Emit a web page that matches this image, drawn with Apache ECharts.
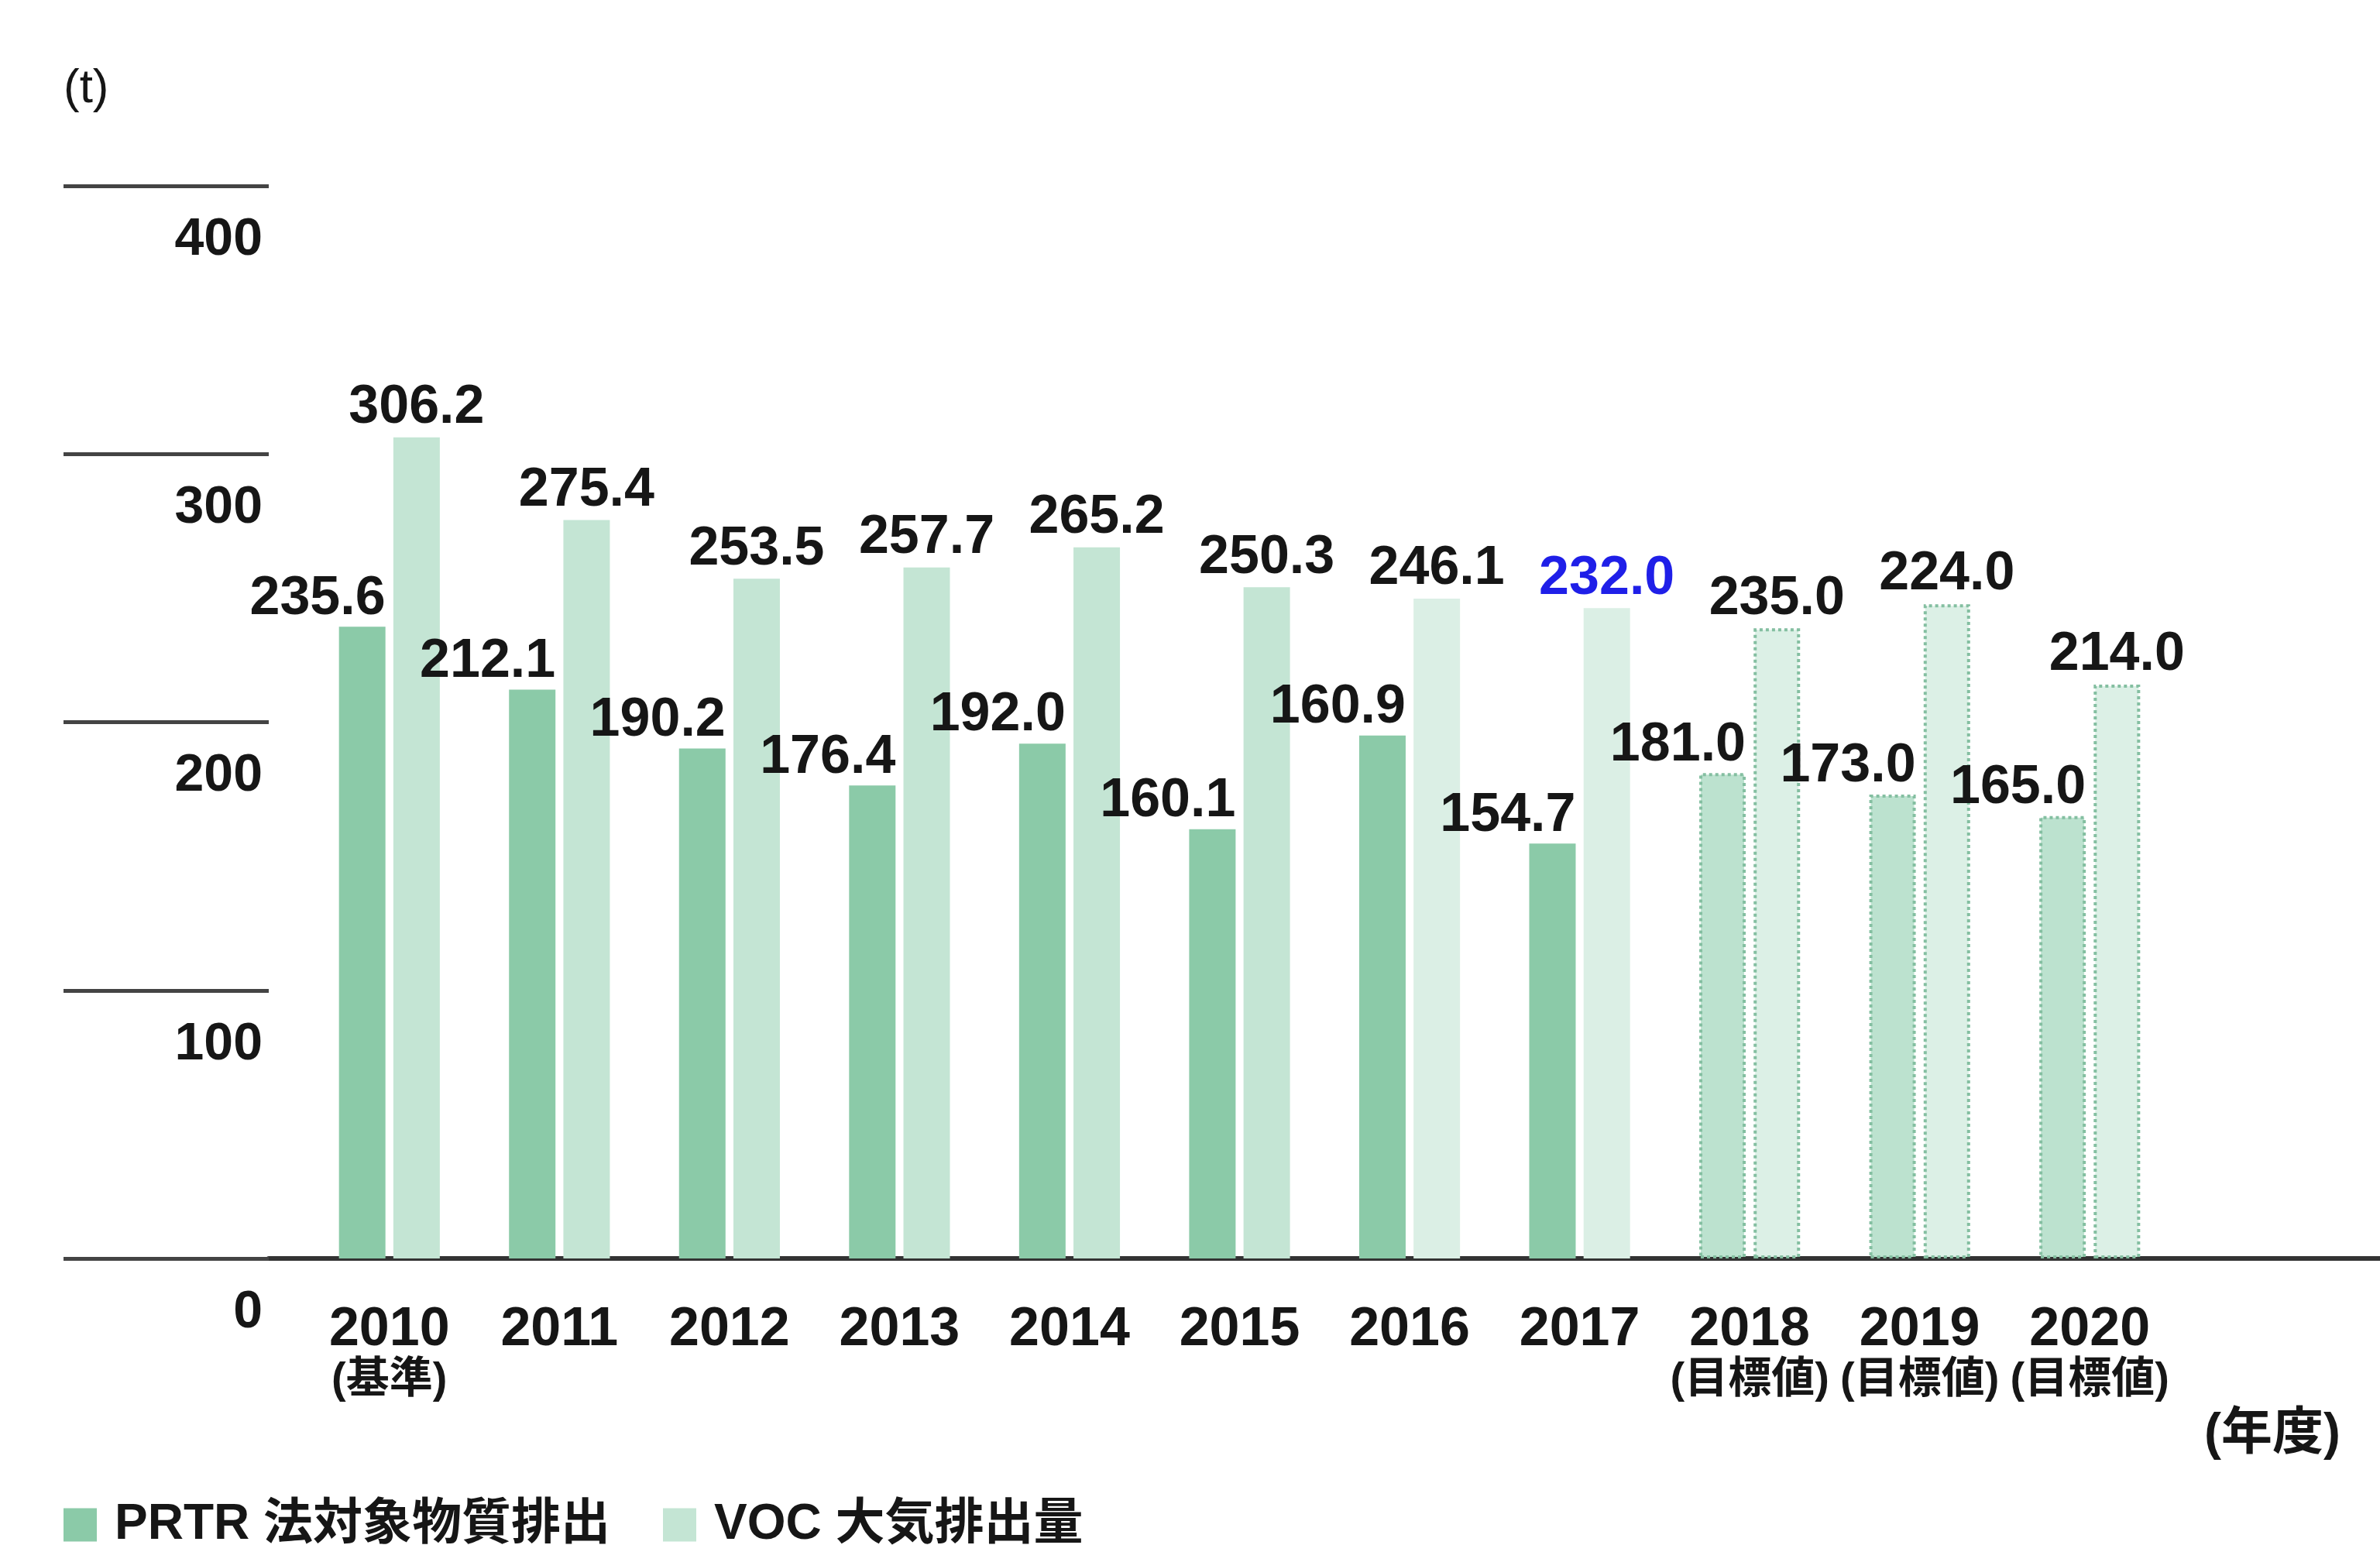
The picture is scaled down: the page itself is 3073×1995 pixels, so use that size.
<!DOCTYPE html>
<html>
<head>
<meta charset="utf-8">
<script src="https://cdn.jsdelivr.net/npm/echarts@6/dist/echarts.min.js"></script>
<style>
  html, body { margin: 0; padding: 0; background: #fff; }
  #chart { width: 3073px; height: 1995px; }
</style>
</head>
<body>
<div id="chart"></div>
<script>
// fiscal years and the note printed under some of them
const years = ['2010', '2011', '2012', '2013', '2014', '2015', '2016', '2017', '2018', '2019', '2020']
const yearNotes = ['基準', '', '', '', '', '', '', '', '目標値', '目標値', '目標値']

// bar heights as drawn in the source (t); a few bars there don't match their printed figure
const prtr = [235.6, 212.1, 190.2, 176.4, 192.0, 160.1, 195.0, 154.7, 181.0, 173.0, 165.0]
const voc = [306.2, 275.4, 253.5, 257.7, 265.2, 250.3, 246.1, 242.5, 235.0, 244.0, 214.0]

// figures printed above the bars
const prtrLabels = ['235.6', '212.1', '190.2', '176.4', '192.0', '160.1', '160.9', '154.7', '181.0', '173.0', '165.0']
const vocLabels = ['306.2', '275.4', '253.5', '257.7', '265.2', '250.3', '246.1', '232.0', '235.0', '224.0', '214.0']

const yTicks = [0, 100, 200, 300, 400]

const FONT = '"Liberation Sans", "Noto Sans CJK JP", sans-serif'
const TEXT = '#161616'
const WEIGHT = 'bold'
const targetFrom = 8 // 2018 onward are targets

const prtrColor = '#8bcaa8'
const vocColor = '#c4e5d4'
const dotted = { borderColor: '#84bfa1', borderWidth: 4, borderType: 'dotted' }

const chart = echarts.init(document.getElementById('chart'))

const prtrData = prtr.map((v, i) => {
  const item = { value: v }
  if (i >= targetFrom) {
    item.itemStyle = Object.assign({ color: '#bce2cf' }, dotted)
  }
  return item
})

const vocData = voc.map((v, i) => {
  const item = { value: v }
  if (i === 6 || i === 7) {
    item.itemStyle = { color: '#dbefe5' }
  }
  if (i === 7) {
    item.label = { color: '#1f1fe8' }
  }
  if (i >= targetFrom) {
    item.itemStyle = Object.assign({ color: '#dcf0e6' }, dotted)
  }
  return item
})

const option = {
  backgroundColor: '#fff',
  animation: false,
  textStyle: { fontFamily: FONT },
  grid: [
    { left: 393, right: 265, top: 240, bottom: 370 },
    { left: 347, right: 0, top: 240, bottom: 370 }
  ],
  xAxis: [
    {
      type: 'category',
      gridIndex: 0,
      data: years,
      axisLine: { show: false },
      axisTick: { show: false },
      axisLabel: {
        interval: 0,
        margin: 58,
        color: TEXT,
        formatter: (val, idx) => yearNotes[idx]
          ? `{y|${val}}\n{s|(${yearNotes[idx]})}`
          : `{y|${val}}`,
        rich: {
          y: { fontSize: 70, lineHeight: 70, fontFamily: FONT, fontWeight: WEIGHT, color: TEXT },
          s: { fontSize: 56, lineHeight: 60, fontFamily: FONT, fontWeight: WEIGHT, color: TEXT }
        }
      }
    },
    {
      type: 'value',
      gridIndex: 1,
      min: 0,
      max: 1,
      axisLine: { show: true, lineStyle: { color: '#333', width: 6 } },
      axisTick: { show: false },
      axisLabel: { show: false },
      splitLine: { show: false }
    }
  ],
  yAxis: [
    {
      type: 'value',
      gridIndex: 0,
      min: 0,
      max: 400,
      interval: 100,
      show: false
    },
    {
      type: 'value',
      gridIndex: 1,
      min: yTicks[0],
      max: yTicks[yTicks.length - 1],
      interval: 100,
      axisLine: { show: false },
      axisTick: { show: true, length: 265, lineStyle: { color: '#444', width: 5 } },
      splitLine: { show: false },
      axisLabel: {
        margin: 8,
        color: TEXT,
        fontSize: 68,
        fontFamily: FONT,
        fontWeight: WEIGHT,
        verticalAlign: 'top',
        padding: [36, 0, 0, 0]
      }
    }
  ],
  legend: {
    left: 82,
    top: 1937,
    padding: 0,
    icon: 'rect',
    itemWidth: 43,
    itemHeight: 43,
    itemGap: 68,
    textStyle: { fontSize: 64, color: TEXT, fontFamily: FONT, fontWeight: WEIGHT, padding: [0, 0, 0, 18] },
    data: ['PRTR 法対象物質排出', 'VOC 大気排出量']
  },
  graphic: [
    {
      type: 'text',
      left: 82,
      top: 84,
      style: { text: '(t)', font: `62px ${FONT}`, fill: TEXT }
    },
    {
      type: 'text',
      left: 2846,
      top: 1820,
      style: { text: '(年度)', font: `bold 66px ${FONT}`, fill: TEXT }
    }
  ],
  series: [
    {
      name: 'PRTR 法対象物質排出',
      type: 'bar',
      xAxisIndex: 0,
      yAxisIndex: 0,
      barWidth: 60,
      barGap: '17%',
      itemStyle: { color: prtrColor },
      data: prtrData,
      label: {
        show: true,
        position: 'top',
        align: 'right',
        offset: [30, 0],
        distance: 0,
        fontSize: 70,
        lineHeight: 72,
        fontFamily: FONT,
        fontWeight: WEIGHT,
        color: TEXT,
        formatter: p => prtrLabels[p.dataIndex]
      }
    },
    {
      name: 'VOC 大気排出量',
      type: 'bar',
      xAxisIndex: 0,
      yAxisIndex: 0,
      barWidth: 60,
      itemStyle: { color: vocColor },
      data: vocData,
      label: {
        show: true,
        position: 'top',
        distance: 2,
        fontSize: 70,
        lineHeight: 72,
        fontFamily: FONT,
        fontWeight: WEIGHT,
        color: TEXT,
        formatter: p => vocLabels[p.dataIndex]
      }
    }
  ]
}

chart.setOption(option)
</script>
</body>
</html>
